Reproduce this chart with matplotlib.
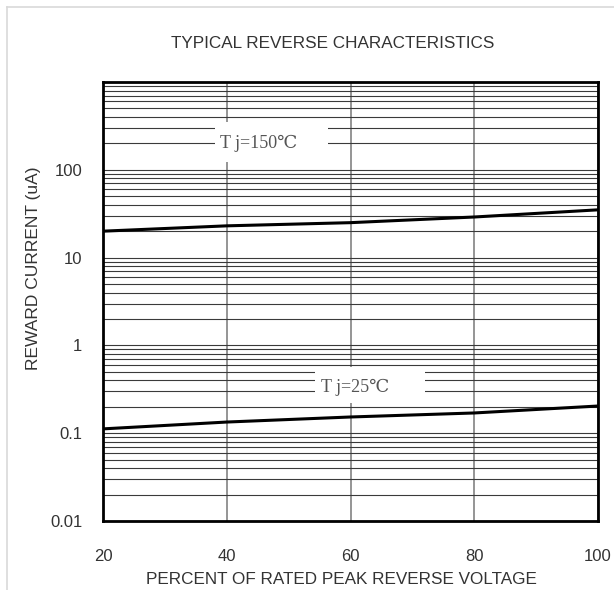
import numpy as np
import matplotlib.pyplot as plt
from matplotlib.lines import Line2D
from matplotlib.patches import Rectangle

# data
voltage_pct = [20, 40, 60, 80, 100]
current_150c = [20.0, 23.0, 25.0, 29.0, 35.0]
current_25c = [0.112, 0.134, 0.153, 0.17, 0.204]
x_ticks = [20, 40, 60, 80, 100]
y_ticks = [0.01, 0.1, 1, 10, 100]
y_tick_labels = ["0.01", "0.1", "1", "10", "100"]


def main():
    plt.rcParams["font.family"] = ["Liberation Sans", "DejaVu Sans"]

    fig = plt.figure(figsize=(6.14, 5.90), dpi=100)
    ax = fig.add_axes([103 / 614, 1 - 521 / 590, 495 / 614, 439 / 590])

    # light frame round the picture (top and left only)
    fig.add_artist(Line2D([7 / 614, 1], [1 - 7 / 590] * 2, color="#d9d9d9",
                          lw=1.2, transform=fig.transFigure))
    fig.add_artist(Line2D([7 / 614] * 2, [0, 1 - 7 / 590], color="#d9d9d9",
                          lw=1.2, transform=fig.transFigure))

    ax.set_yscale("log")
    ax.set_xlim(20, 100)
    ax.set_ylim(0.01, 1000)

    # grid: gray verticals, dark thin horizontals every minor step
    ax.grid(True, which="major", axis="x", color="#8c8c8c", lw=1.3)
    ax.grid(True, which="both", axis="y", color="#3a3a3a", lw=0.8)
    ax.set_axisbelow(True)

    ax.plot(voltage_pct, current_150c, color="black", lw=2.2, zorder=3)
    ax.plot(voltage_pct, current_25c, color="black", lw=2.2, zorder=3)

    # white boxes behind the curve labels
    ax.add_patch(Rectangle((38.1, 122.7), 56.4 - 38.1, 350 - 122.7,
                           fc="white", ec="none", zorder=2.5))
    ax.add_patch(Rectangle((54.3, 0.221), 72.0 - 54.3, 0.568 - 0.221,
                           fc="white", ec="none", zorder=2.5))

    label_font = dict(family=["Liberation Serif", "DejaVu Serif"],
                      fontsize=13, color="#555555", ha="center", va="center",
                      zorder=4)
    ax.text(45.2, 200, "T j=150\u2103", **label_font)
    ax.text(60.7, 0.335, "T j=25\u2103", **label_font)

    ax.set_xticks(x_ticks)
    ax.set_xticklabels([str(v) for v in x_ticks])
    ax.set_yticks(y_ticks)
    ax.set_yticklabels(y_tick_labels)
    ax.yaxis.set_minor_formatter(plt.NullFormatter())
    ax.tick_params(which="both", length=0, labelsize=12, colors="#333333")
    ax.tick_params(axis="x", pad=20)
    ax.tick_params(axis="y", pad=15)

    for s in ax.spines.values():
        s.set_linewidth(2.0)
        s.set_color("black")
        s.set_zorder(5)

    ax.set_xlabel("PERCENT OF RATED PEAK REVERSE VOLTAGE", fontsize=12.3,
                  color="#333333", va="center")
    ax.xaxis.set_label_coords((341 - 103) / 495, (521 - 580) / 439)
    ax.set_ylabel("REWARD CURRENT (uA)", fontsize=12.5, color="#333333",
                  va="center")
    ax.yaxis.set_label_coords((34 - 103) / 495, (521 - 268) / 439)
    fig.text(333 / 614, 1 - 43 / 590, "TYPICAL REVERSE CHARACTERISTICS",
             fontsize=12.3, color="#333333", ha="center", va="center")

    fig.savefig("out.png", dpi=100)


if __name__ == "__main__":
    main()
